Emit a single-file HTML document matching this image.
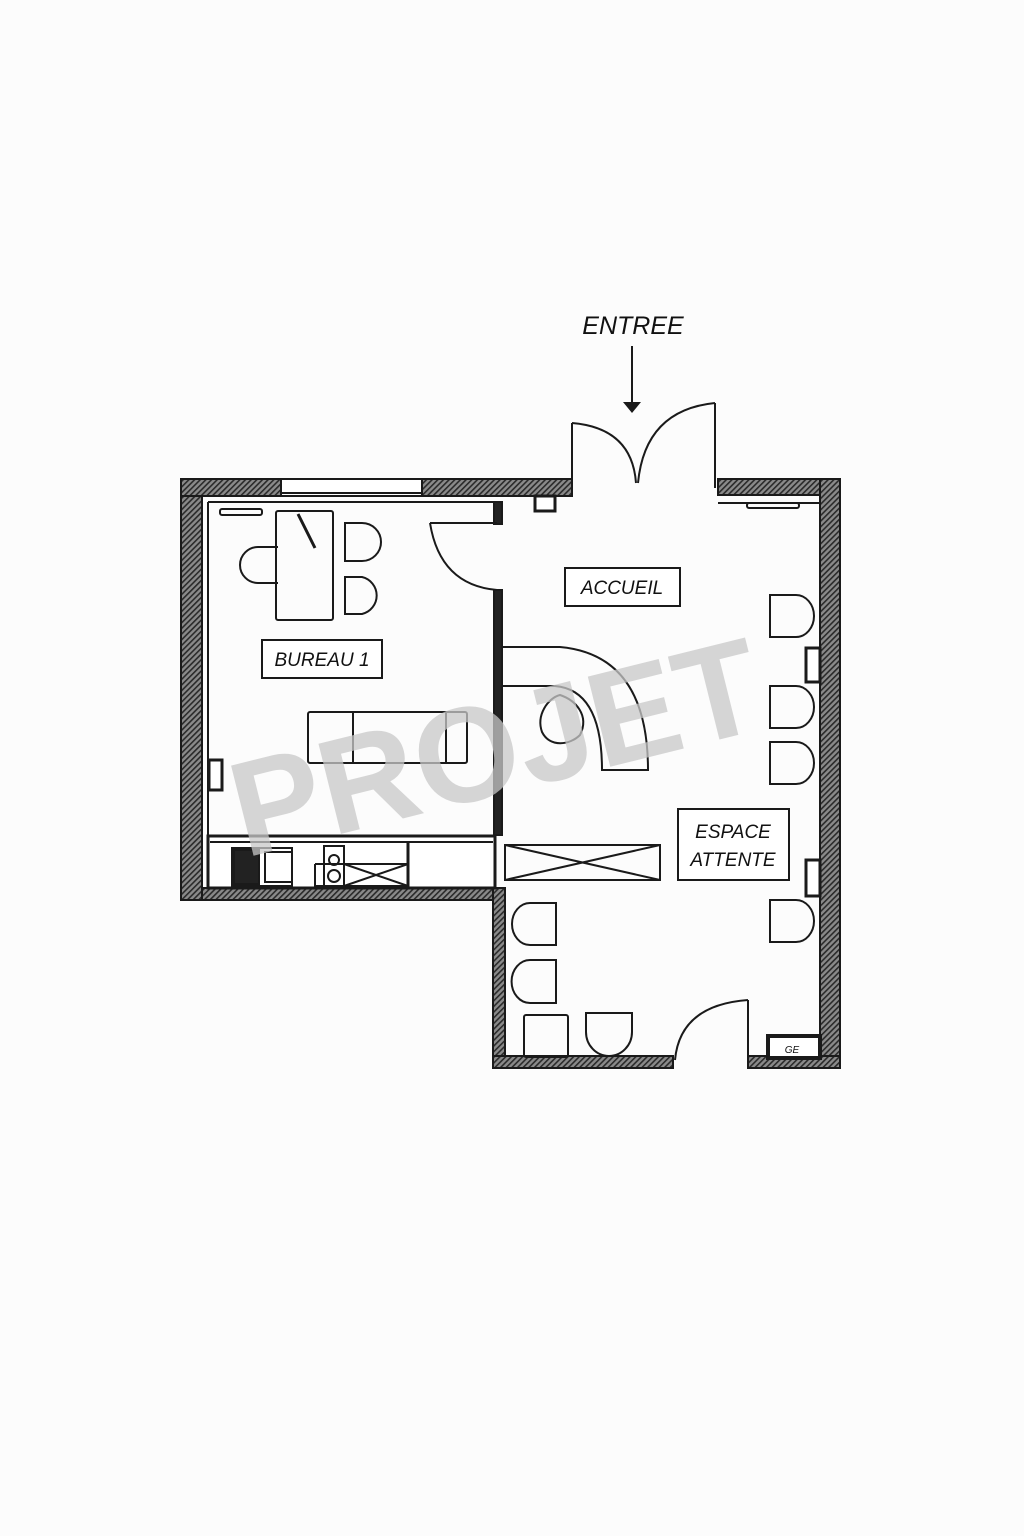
<!DOCTYPE html>
<html><head><meta charset="utf-8"><style>
html,body{margin:0;padding:0;background:#fcfcfc}
svg{display:block}
text{font-family:"Liberation Sans",sans-serif}
.l{font-style:italic}
</style></head><body>
<svg width="1024" height="1536" viewBox="0 0 1024 1536" xmlns="http://www.w3.org/2000/svg">
<defs>
<pattern id="h" width="4" height="4" patternUnits="userSpaceOnUse" patternTransform="rotate(45)">
<rect width="4" height="4" fill="#8a8a8a"/><rect width="1.6" height="4" fill="#2a2a2a"/>
</pattern>
</defs>
<rect width="1024" height="1536" fill="#fcfcfc"/>

<g stroke="#1a1a1a" stroke-width="2" fill="url(#h)">
<rect x="181" y="479" width="21" height="421"/>
<rect x="181" y="479" width="100" height="17"/>
<rect x="422" y="479" width="150" height="17"/>
<rect x="718" y="479" width="122" height="16"/>
<rect x="820" y="479" width="20" height="589"/>
<rect x="202" y="888" width="291" height="12"/>
<rect x="493" y="888" width="12" height="180"/>
<rect x="493" y="1056" width="180" height="12"/>
<rect x="748" y="1056" width="92" height="12"/>
</g>
<rect x="183" y="481" width="17" height="13" fill="url(#h)"/>
<rect x="822" y="481" width="16" height="12" fill="url(#h)"/>

<g stroke="#1a1a1a" fill="none" stroke-width="2">
<rect x="281" y="479" width="141" height="17" fill="#fff"/>
<line x1="281" y1="493" x2="422" y2="493"/>
<line x1="208" y1="502" x2="497" y2="502"/>
<line x1="208" y1="502" x2="208" y2="888"/>
<line x1="718" y1="503" x2="820" y2="503"/>
<line x1="820" y1="503" x2="820" y2="1056"/>
<rect x="494" y="590" width="8" height="245" fill="#222"/>
<rect x="494" y="502" width="8" height="22" fill="#222"/>
<rect x="535" y="496" width="20" height="15" fill="#fff" stroke-width="3"/>
<rect x="806" y="648" width="14" height="34" fill="#fff" stroke-width="3"/>
<rect x="806" y="860" width="14" height="36" fill="#fff" stroke-width="3"/>
<rect x="209" y="760" width="13" height="30" fill="#fff" stroke-width="3"/>
<rect x="220" y="509" width="42" height="6" rx="2"/>
<rect x="747" y="503" width="52" height="5" rx="2"/>

<line x1="572" y1="423" x2="572" y2="488"/>
<line x1="715" y1="403" x2="715" y2="488"/>
<path d="M572 423 Q632 428 636 483"/>
<path d="M715 403 Q645 410 638 483"/>
<line x1="632" y1="346" x2="632" y2="405"/>
<path d="M430 523 Q440 585 497 590"/>
<line x1="430" y1="523" x2="497" y2="523"/>

<rect x="208" y="836" width="287" height="52" fill="#fff" stroke-width="3"/>
<line x1="210" y1="842" x2="493" y2="842"/>
<line x1="408" y1="842" x2="408" y2="888" stroke-width="3"/>
<rect x="232" y="848" width="60" height="38"/>
<rect x="234" y="850" width="25" height="34" fill="#222"/>
<rect x="265" y="852" width="27" height="30"/>
<rect x="324" y="846" width="20" height="40"/>
<circle cx="334" cy="860" r="5"/><circle cx="334" cy="876" r="6"/>
<polyline points="315,864 408,864 408,886 315,886 315,864"/>
<line x1="344" y1="864" x2="408" y2="886"/><line x1="344" y1="886" x2="408" y2="864"/>

<rect x="276" y="511" width="57" height="109" rx="2"/>
<line x1="298" y1="514" x2="315" y2="548" stroke-width="3"/>
<path d="M278 547 H258 A18 18 0 0 0 258 583 H278"/>
<path d="M345 523 H362 A19 19 0 0 1 362 561 H345 Z"/>
<path d="M345 577 H362 A19 19 0 0 1 362 614 H345 Z"/>
<rect x="308" y="712" width="159" height="51" rx="2"/>
<line x1="353" y1="712" x2="353" y2="763"/><line x1="446" y1="712" x2="446" y2="763"/>

<path d="M503 647 H560 Q648 655 648 770 H602 Q602 690 555 686 H503"/>
<path d="M560 695 C575 700 590 715 580 735 C570 745 550 748 542 732 C536 715 548 698 560 695 Z"/>

<path d="M770 595 H796 A18 21 0 0 1 796 637 H770 Z"/>
<path d="M770 686 H796 A18 21 0 0 1 796 728 H770 Z"/>
<path d="M770 742 H796 A18 21 0 0 1 796 784 H770 Z"/>
<path d="M770 900 H796 A18 21 0 0 1 796 942 H770 Z"/>
<path d="M556 903 H530 A18 21 0 0 0 530 945 H556 Z"/>
<path d="M556 960 H530 A18 21 0 0 0 530 1003 H556 Z"/>
<rect x="524" y="1015" width="44" height="42" rx="2"/>
<path d="M586 1013 H632 V1032 A23 24 0 0 1 586 1032 Z"/>

<rect x="505" y="845" width="155" height="35"/>
<line x1="505" y1="845" x2="660" y2="880"/><line x1="505" y1="880" x2="660" y2="845"/>

<line x1="748" y1="1000" x2="748" y2="1060"/>
<path d="M748 1000 Q680 1005 675 1060"/>
<rect x="768" y="1036" width="52" height="22" stroke-width="4" fill="#fff"/>

<rect x="565" y="568" width="115" height="38" fill="#fff"/>
<rect x="262" y="640" width="120" height="38" fill="#fff"/>
<rect x="678" y="809" width="111" height="71" fill="#fff"/>
</g>
<polygon points="623,402 641,402 632,413" fill="#1a1a1a"/>

<!-- watermark -->
<text x="495" y="794" text-anchor="middle" font-size="135" font-weight="bold" fill="#c8c8c8" fill-opacity="0.75" transform="rotate(-14 495 745)">PROJET</text>

<g fill="#111" font-size="19" class="l">
<text class="l" x="633" y="334" text-anchor="middle" font-size="25">ENTREE</text>
<text class="l" x="622" y="594" text-anchor="middle">ACCUEIL</text>
<text class="l" x="322" y="666" text-anchor="middle">BUREAU 1</text>
<text class="l" x="733" y="838" text-anchor="middle">ESPACE</text>
<text class="l" x="733" y="866" text-anchor="middle">ATTENTE</text>
<text class="l" x="792" y="1053" text-anchor="middle" font-size="10">GE</text>
</g>
</svg>
</body></html>
